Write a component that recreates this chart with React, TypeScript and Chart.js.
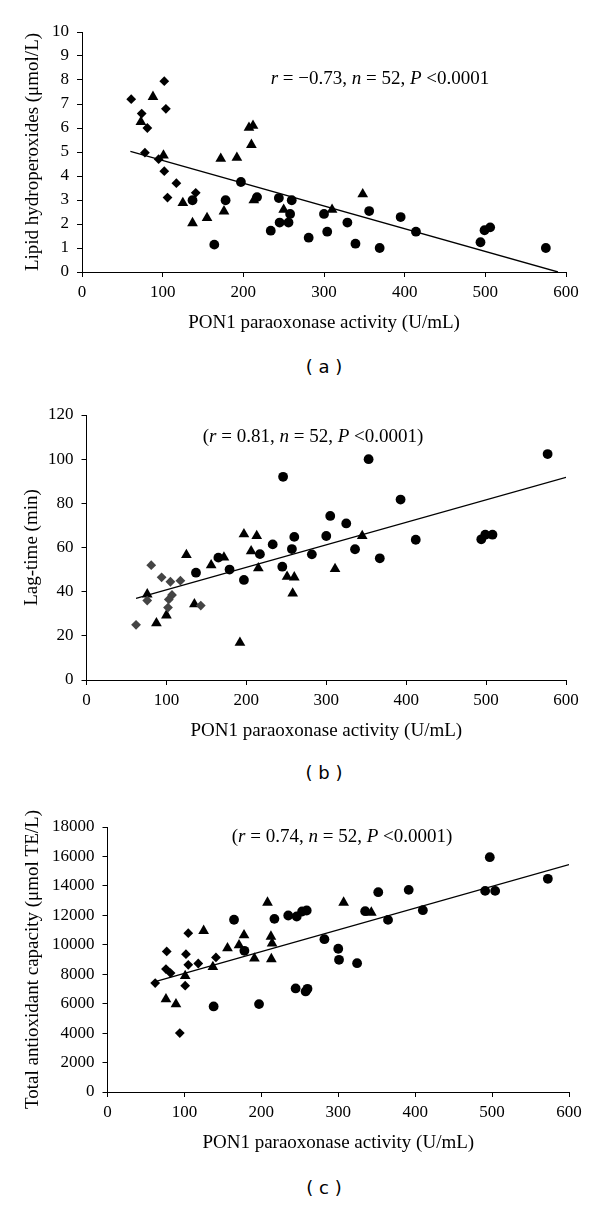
import React, { useEffect, useRef } from "react";
import { Chart, registerables } from "chart.js";

Chart.register(...registerables);

type Pt = [number, number];

// ---------- shared axis ----------
const xMin = 0;
const xMax = 600;
const xStep = 100;
const xTitle = "PON1 paraoxonase activity (U/mL)";

// ---------- panel (a) ----------
const aYTitle = "Lipid hydroperoxides (μmol/L)";
const aYMax = 10;
const aYStep = 1;
const aDiamonds: Pt[] = [
  [61, 7.2], [102, 7.95], [74, 6.6], [81, 6.0], [104, 6.8], [78, 4.97],
  [95, 4.7], [102, 4.2], [117, 3.7], [106, 3.1], [141, 3.3],
];
const aTriangles: Pt[] = [
  [88, 7.3], [73, 6.25], [101, 4.86], [172, 4.72], [192, 4.76], [207, 6.01],
  [212, 6.1], [210, 5.3], [213, 2.99], [125, 2.88], [137, 2.04], [155, 2.25],
  [176, 2.53], [250, 2.6], [310, 2.6], [348, 3.24],
];
const aCircles: Pt[] = [
  [197, 3.75], [217, 3.12], [137, 2.99], [178, 2.99], [164, 1.14], [244, 3.08],
  [260, 2.99], [258, 2.42], [245, 2.06], [256, 2.06], [234, 1.72], [281, 1.43],
  [300, 2.42], [304, 1.68], [329, 2.06], [356, 2.54], [339, 1.18], [369, 1.0],
  [395, 2.29], [414, 1.68], [494, 1.24], [499, 1.74], [506, 1.86], [575, 1.0],
];
const aTrend: Pt[] = [[60, 5.03], [590, 0]];
const aNote = [
  { t: "r", i: true }, { t: " = −0.73, " }, { t: "n", i: true },
  { t: " = 52, " }, { t: "P", i: true }, { t: " <0.0001" },
];

// ---------- panel (b) ----------
const bYTitle = "Lag-time (min)";
const bYMax = 120;
const bYStep = 20;
const bDiamonds: Pt[] = [
  [62, 25], [81, 52], [94, 46.5], [105, 44.5], [117.5, 45], [107, 38.5],
  [103, 36.5], [102, 32.8], [76, 36], [143, 33.7],
];
const bTriangles: Pt[] = [
  [76, 38.8], [87.5, 25.7], [100, 29.3], [125, 56.6], [135, 34.3], [156, 52],
  [172, 55.5], [197, 66], [213, 65.2], [206, 58.3], [215, 50.6], [192, 16.9],
  [251, 46.8], [260, 46.5], [258, 39.2], [311, 50.3], [345, 65.2],
];
const bCircles: Pt[] = [
  [137, 48.6], [165, 55.4], [179, 50], [197, 45.3], [217, 57], [233, 61.4],
  [246, 92], [245, 51.3], [257, 59.3], [260, 64.8], [282, 56.9], [300, 65.2],
  [305, 74.3], [325, 70.9], [336, 59.2], [353, 100], [367, 55.1], [393, 81.7],
  [412, 63.5], [494, 63.7], [499, 65.8], [508, 65.8], [577, 102.3],
];
const bTrend: Pt[] = [[62, 37], [600, 91.8]];
const bNote = [
  { t: "(" }, { t: "r", i: true }, { t: " = 0.81, " }, { t: "n", i: true },
  { t: " = 52, " }, { t: "P", i: true }, { t: " <0.0001)" },
];

// ---------- panel (c) ----------
const cYTitle = "Total antioxidant capacity (μmol TE/L)";
const cYMax = 18000;
const cYStep = 2000;
const cDiamonds: Pt[] = [
  [62, 7400], [77, 9550], [76, 8350], [82, 8075], [94, 4000], [101, 7220],
  [102, 9365], [105, 10790], [105, 8640], [118, 8730], [141, 9140],
];
const cTriangles: Pt[] = [
  [76, 6310], [89, 5970], [101, 7890], [125, 10950], [137, 8500], [156, 9770],
  [171, 9975], [177.5, 10650], [191, 9070], [208, 12870], [212.5, 10560],
  [214, 10090], [213, 9030], [307, 12870], [343, 12190],
];
const cCircles: Pt[] = [
  [138, 5810], [164.5, 11700], [178, 9590], [197, 5970], [217, 11760],
  [235, 11990], [246, 11920], [253, 12260], [259, 12330], [244.6, 7035],
  [257.6, 6830], [260, 7010], [282, 10380], [300, 9730], [301, 8980],
  [324.5, 8750], [335, 12280], [352, 13570], [364.7, 11690], [391.6, 13730],
  [410, 12350], [491, 13660], [504, 13660], [497, 15950], [572.5, 14480],
];
const cTrend: Pt[] = [[62, 7500], [600, 15450]];
const cNote = [
  { t: "(" }, { t: "r", i: true }, { t: " = 0.74, " }, { t: "n", i: true },
  { t: " = 52, " }, { t: "P", i: true }, { t: " <0.0001)" },
];

// ---------- styling / layout ----------
const SERIF = '"Liberation Serif", "Times New Roman", serif';
const TICK_SIZE = 17;
const TITLE_SIZE = 19;
const TITLE_LH = TITLE_SIZE * 1.2;
const X_TITLE_OFFSET = 51; // axis -> title centre
const X_SCALE_H = X_TITLE_OFFSET + TITLE_LH / 2;

type Seg = { t: string; i?: boolean };

interface PanelSpec {
  top: number;
  height: number;
  areaTop: number;
  areaBottom: number;
  areaLeft: number;
  areaRight: number;
  yMax: number;
  yStep: number;
  yTitle: string;
  yTitleX: number;
  diamonds: Pt[];
  triangles: Pt[];
  circles: Pt[];
  trend: Pt[];
  diamondColor: string;
  note: Seg[];
  noteX: number;
  noteY: number;
  caption: string;
  captionY: number;
}

const panels: PanelSpec[] = [
  {
    top: 0, height: 345, areaTop: 32, areaBottom: 272, areaLeft: 82, areaRight: 566,
    yMax: aYMax, yStep: aYStep, yTitle: aYTitle, yTitleX: 33,
    diamonds: aDiamonds, triangles: aTriangles, circles: aCircles, trend: aTrend,
    diamondColor: "#000", note: aNote, noteX: 380, noteY: 79, caption: "( a )", captionY: 367,
  },
  {
    top: 380, height: 380, areaTop: 415, areaBottom: 680, areaLeft: 86.5, areaRight: 566,
    yMax: bYMax, yStep: bYStep, yTitle: bYTitle, yTitleX: 32,
    diamonds: bDiamonds, triangles: bTriangles, circles: bCircles, trend: bTrend,
    diamondColor: "#444", note: bNote, noteX: 313, noteY: 437, caption: "( b )", captionY: 773,
  },
  {
    top: 780, height: 380, areaTop: 827, areaBottom: 1092, areaLeft: 107.5, areaRight: 569,
    yMax: cYMax, yStep: cYStep, yTitle: cYTitle, yTitleX: 33,
    diamonds: cDiamonds, triangles: cTriangles, circles: cCircles, trend: cTrend,
    diamondColor: "#000", note: cNote, noteX: 342, noteY: 837, caption: "( c )", captionY: 1188,
  },
];

const toXY = (arr: Pt[]) => arr.map(([x, y]) => ({ x, y }));

const notePlugin = {
  id: "note",
  afterDraw(chart: any, _args: any, opts: any) {
    if (!opts || !opts.segments) return;
    const ctx = chart.ctx as CanvasRenderingContext2D;
    const segs: Seg[] = opts.segments;
    const fontFor = (it?: boolean) => `${it ? "italic " : ""}${TITLE_SIZE}px ${SERIF}`;
    ctx.save();
    let total = 0;
    segs.forEach((s) => {
      ctx.font = fontFor(s.i);
      total += ctx.measureText(s.t).width;
    });
    let x = opts.cx - total / 2;
    ctx.textBaseline = "middle";
    ctx.textAlign = "left";
    ctx.fillStyle = "#000";
    segs.forEach((s) => {
      ctx.font = fontFor(s.i);
      ctx.fillText(s.t, x, opts.cy);
      x += ctx.measureText(s.t).width;
    });
    ctx.restore();
  },
};

function Panel({ spec }: { spec: PanelSpec }) {
  const ref = useRef<HTMLCanvasElement | null>(null);
  useEffect(() => {
    if (!ref.current) return;
    const s = spec;
    const padTop = s.areaTop - s.top;
    const padBottom = s.height - (s.areaBottom - s.top) - X_SCALE_H;
    const chart = new Chart(ref.current, {
      type: "scatter",
      data: {
        datasets: [
          {
            label: "trend",
            data: toXY(s.trend),
            showLine: true,
            borderColor: "#000",
            borderWidth: 1.3,
            pointRadius: 0,
            fill: false,
          } as any,
          {
            label: "diamonds",
            data: toXY(s.diamonds),
            pointStyle: "rectRot",
            pointRadius: 4.9,
            backgroundColor: s.diamondColor,
            borderWidth: 0,
          },
          {
            label: "triangles",
            data: toXY(s.triangles),
            pointStyle: "triangle",
            pointRadius: 6.2,
            backgroundColor: "#000",
            borderWidth: 0,
          },
          {
            label: "circles",
            data: toXY(s.circles),
            pointStyle: "circle",
            pointRadius: 4.9,
            backgroundColor: "#000",
            borderWidth: 0,
          },
        ],
      },
      options: {
        animation: false,
        responsive: false,
        maintainAspectRatio: false,
        devicePixelRatio: 1,
        layout: {
          padding: { top: padTop, bottom: padBottom, left: 0, right: 600 - s.areaRight },
        },
        plugins: {
          legend: { display: false },
          tooltip: { enabled: false },
          note: { segments: s.note, cx: s.noteX, cy: s.noteY - s.top },
        } as any,
        scales: {
          x: {
            type: "linear",
            position: "bottom",
            min: xMin,
            max: xMax,
            ticks: {
              stepSize: xStep,
              color: "#000",
              font: { family: SERIF, size: TICK_SIZE },
              padding: 5,
              maxRotation: 0,
            },
            grid: { drawOnChartArea: false, drawTicks: true, tickLength: 5, color: "#000", lineWidth: 1 },
            border: { display: true, color: "#000", width: 1 },
            title: {
              display: true,
              text: xTitle,
              color: "#000",
              font: { family: SERIF, size: TITLE_SIZE },
              padding: { top: 0, bottom: 0 },
            },
            afterFit: (sc: any) => {
              sc.height = X_SCALE_H;
            },
          },
          y: {
            type: "linear",
            position: "left",
            min: 0,
            max: s.yMax,
            ticks: {
              stepSize: s.yStep,
              color: "#000",
              font: { family: SERIF, size: TICK_SIZE },
              padding: 8,
              callback: (v: any) => String(v),
            },
            grid: { drawOnChartArea: false, drawTicks: true, tickLength: 5, color: "#000", lineWidth: 1 },
            border: { display: true, color: "#000", width: 1 },
            title: {
              display: true,
              text: s.yTitle,
              color: "#000",
              font: { family: SERIF, size: TITLE_SIZE },
              padding: { top: s.yTitleX - TITLE_LH / 2, bottom: 0 },
            },
            afterFit: (sc: any) => {
              sc.width = s.areaLeft;
            },
          },
        },
      },
      plugins: [notePlugin as any],
    });
    return () => chart.destroy();
  }, [spec]);

  return (
    <>
      <div style={{ position: "absolute", left: 0, top: spec.top, width: 600, height: spec.height }}>
        <canvas ref={ref} width={600} height={spec.height} style={{ display: "block" }} />
      </div>
      <div
        style={{
          position: "absolute",
          left: 224,
          width: 200,
          top: spec.captionY - 11,
          height: 22,
          lineHeight: "22px",
          textAlign: "center",
          fontFamily: '"DejaVu Sans", sans-serif',
          fontSize: 18,
          color: "#000",
        }}
      >
        {spec.caption}
      </div>
    </>
  );
}

export default function App() {
  return (
    <div style={{ position: "absolute", left: 0, top: 0, width: 600, height: 1205, background: "#fff" }}>
      {panels.map((p, i) => (
        <Panel key={i} spec={p} />
      ))}
    </div>
  );
}
